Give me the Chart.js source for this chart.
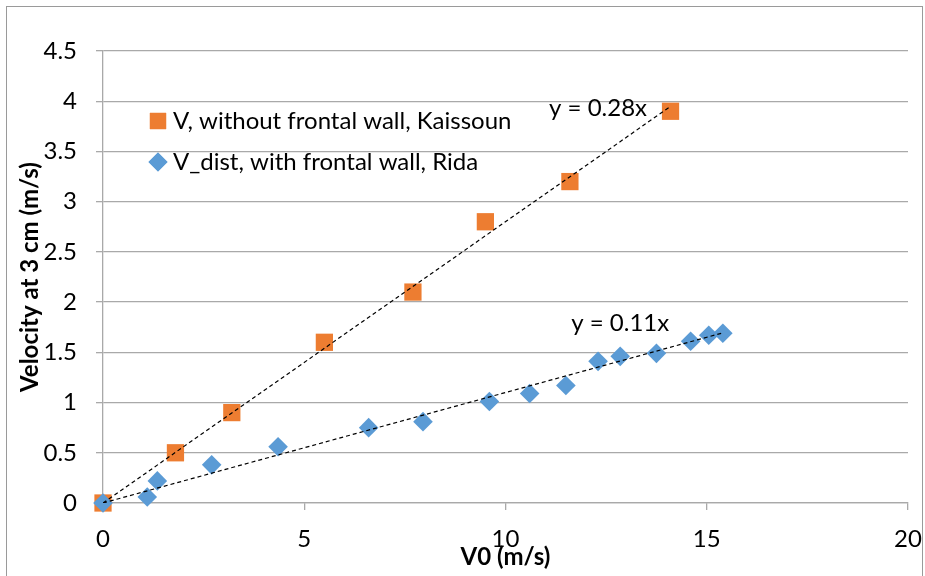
<!DOCTYPE html>
<html>
<head>
<meta charset="utf-8">
<script src="https://cdn.jsdelivr.net/npm/chart.js@4.4.1/dist/chart.umd.min.js"></script>
<style>
  html, body { margin: 0; padding: 0; background: #fff; }
  #wrap { width: 925px; height: 576px; position: relative; }
</style>
</head>
<body>
<div id="wrap"><canvas id="velocityChart" width="925" height="576"></canvas></div>
<script>
// Kaissoun: without frontal wall
const kaissounV0 = [0, 1.8, 3.2, 5.5, 7.7, 9.5, 11.6, 14.1];
const kaissounV = [0, 0.5, 0.9, 1.6, 2.1, 2.8, 3.2, 3.9];

// Rida: with frontal wall
const ridaV0 = [0, 1.1, 1.35, 2.7, 4.35, 6.6, 7.95, 9.6, 10.6, 11.5, 12.3, 12.85, 13.75, 14.6, 15.05, 15.4];
const ridaV = [0, 0.06, 0.22, 0.38, 0.56, 0.75, 0.81, 1.01, 1.09, 1.17, 1.41, 1.46, 1.49, 1.61, 1.67, 1.69];

// linear trendlines through the origin
const trendSlopes = [0.28, 0.11];
const trendLabels = ['y = 0.28x', 'y = 0.11x'];
const trendLabelPos = [[12.3, 3.93], [12.85, 1.79]];

const seriesLabels = ['V, without frontal wall, Kaissoun', 'V_dist, with frontal wall, Rida'];
const xTitle = 'V0 (m/s)';
const yTitle = 'Velocity at 3 cm (m/s)';

const ORANGE = '#ED7D31';
const BLUE = '#5B9BD5';
const GRID = '#a9a9a9';
const FONT = 'Lato, "Open Sans", sans-serif';
const FONT_SIZE = 24;

const toPoints = (xs, ys) => xs.map((x, i) => ({ x, y: ys[i] }));
const trendLine = (xs, slope) => {
    const xEnd = xs[xs.length - 1];
    return [{ x: 0, y: 0 }, { x: xEnd, y: slope * xEnd }];
};

// legend drawn inside the plot area, top-left
const insideLegend = {
    id: 'insideLegend',
    afterDatasetsDraw(chart) {
        const { ctx } = chart;
        const rows = [
            { ds: chart.data.datasets[2], y: 121 },
            { ds: chart.data.datasets[3], y: 162 }
        ];
        ctx.save();
        rows.forEach(row => {
            ctx.fillStyle = row.ds.backgroundColor;
            Chart.helpers.drawPoint(ctx, {
                pointStyle: row.ds.pointStyle,
                radius: row.ds.pointStyle === 'rect' ? 11.5 : 9.5,
                rotation: 0,
                borderWidth: 0
            }, 158, row.y);
            ctx.fill();
            ctx.fillStyle = '#000';
            ctx.font = FONT_SIZE + 'px ' + FONT;
            ctx.textBaseline = 'middle';
            ctx.textAlign = 'left';
            ctx.fillText(row.ds.label, 173, row.y);
        });
        ctx.restore();
    }
};

const trendText = {
    id: 'trendText',
    afterDatasetsDraw(chart) {
        const { ctx, scales: { x, y } } = chart;
        ctx.save();
        ctx.fillStyle = '#000';
        ctx.font = FONT_SIZE + 'px ' + FONT;
        ctx.textAlign = 'center';
        ctx.textBaseline = 'middle';
        trendLabels.forEach((t, i) => {
            ctx.fillText(t, x.getPixelForValue(trendLabelPos[i][0]), y.getPixelForValue(trendLabelPos[i][1]));
        });
        ctx.restore();
    }
};

const outerBorder = {
    id: 'outerBorder',
    beforeDraw(chart) {
        const { ctx } = chart;
        ctx.save();
        ctx.fillStyle = '#fff';
        ctx.fillRect(0, 0, chart.width, chart.height);
        ctx.strokeStyle = '#9a9a9a';
        ctx.lineWidth = 1;
        ctx.strokeRect(6.5, 6.5, 916, 575);
        ctx.restore();
    }
};

const ctx = document.getElementById('velocityChart').getContext('2d');
new Chart(ctx, {
    type: 'scatter',
    data: {
        datasets: [
            {
                type: 'line',
                label: 'trend Kaissoun',
                data: trendLine(kaissounV0, trendSlopes[0]),
                borderColor: '#000',
                borderWidth: 1.2,
                borderDash: [4, 3],
                pointRadius: 0,
                fill: false,
                order: 0
            },
            {
                type: 'line',
                label: 'trend Rida',
                data: trendLine(ridaV0, trendSlopes[1]),
                borderColor: '#000',
                borderWidth: 1.2,
                borderDash: [4, 3],
                pointRadius: 0,
                fill: false,
                order: 0
            },
            {
                label: seriesLabels[0],
                data: toPoints(kaissounV0, kaissounV),
                pointStyle: 'rect',
                pointRadius: 12.2,
                backgroundColor: ORANGE,
                borderColor: ORANGE,
                borderWidth: 0,
                clip: false,
                order: 2
            },
            {
                label: seriesLabels[1],
                data: toPoints(ridaV0, ridaV),
                pointStyle: 'rectRot',
                pointRadius: 9.8,
                backgroundColor: BLUE,
                borderColor: BLUE,
                borderWidth: 0,
                clip: false,
                order: 1
            }
        ]
    },
    options: {
        responsive: false,
        animation: false,
        layout: { padding: { left: 0, top: 51, right: 17, bottom: 0 } },
        plugins: {
            legend: { display: false },
            tooltip: { enabled: false }
        },
        scales: {
            x: {
                type: 'linear',
                min: 0,
                max: 20,
                ticks: { stepSize: 5, color: '#000', font: { family: FONT, size: FONT_SIZE }, padding: 15 },
                grid: { drawOnChartArea: false, drawTicks: true, tickLength: 7, color: GRID, lineWidth: 1.3 },
                border: { display: true, color: GRID, width: 1.3 },
                title: { display: true, text: xTitle, color: '#000', font: { family: FONT, size: FONT_SIZE, weight: 'bold' }, padding: { top: 0, bottom: 4 } },
                afterFit(scale) {
                    scale.height = 73;
                    scale.paddingLeft = 0;
                    scale.paddingRight = 0;
                }
            },
            y: {
                type: 'linear',
                min: 0,
                max: 4.5,
                ticks: {
                    stepSize: 0.5,
                    color: '#000',
                    font: { family: FONT, size: FONT_SIZE },
                    padding: 19,
                    callback: (value) => String(Number(value.toFixed(1)))
                },
                grid: { color: GRID, lineWidth: 1.3, drawTicks: true, tickLength: 7 },
                border: { display: true, color: GRID, width: 1.3 },
                title: { display: true, text: yTitle, color: '#000', font: { family: FONT, size: FONT_SIZE, weight: 'bold' }, padding: { top: 16, bottom: 0 } },
                afterFit(scale) {
                    scale.width = 103;
                    scale.paddingTop = 0;
                    scale.paddingBottom = 0;
                }
            }
        }
    },
    plugins: [outerBorder, trendText, insideLegend]
});
</script>
</body>
</html>
